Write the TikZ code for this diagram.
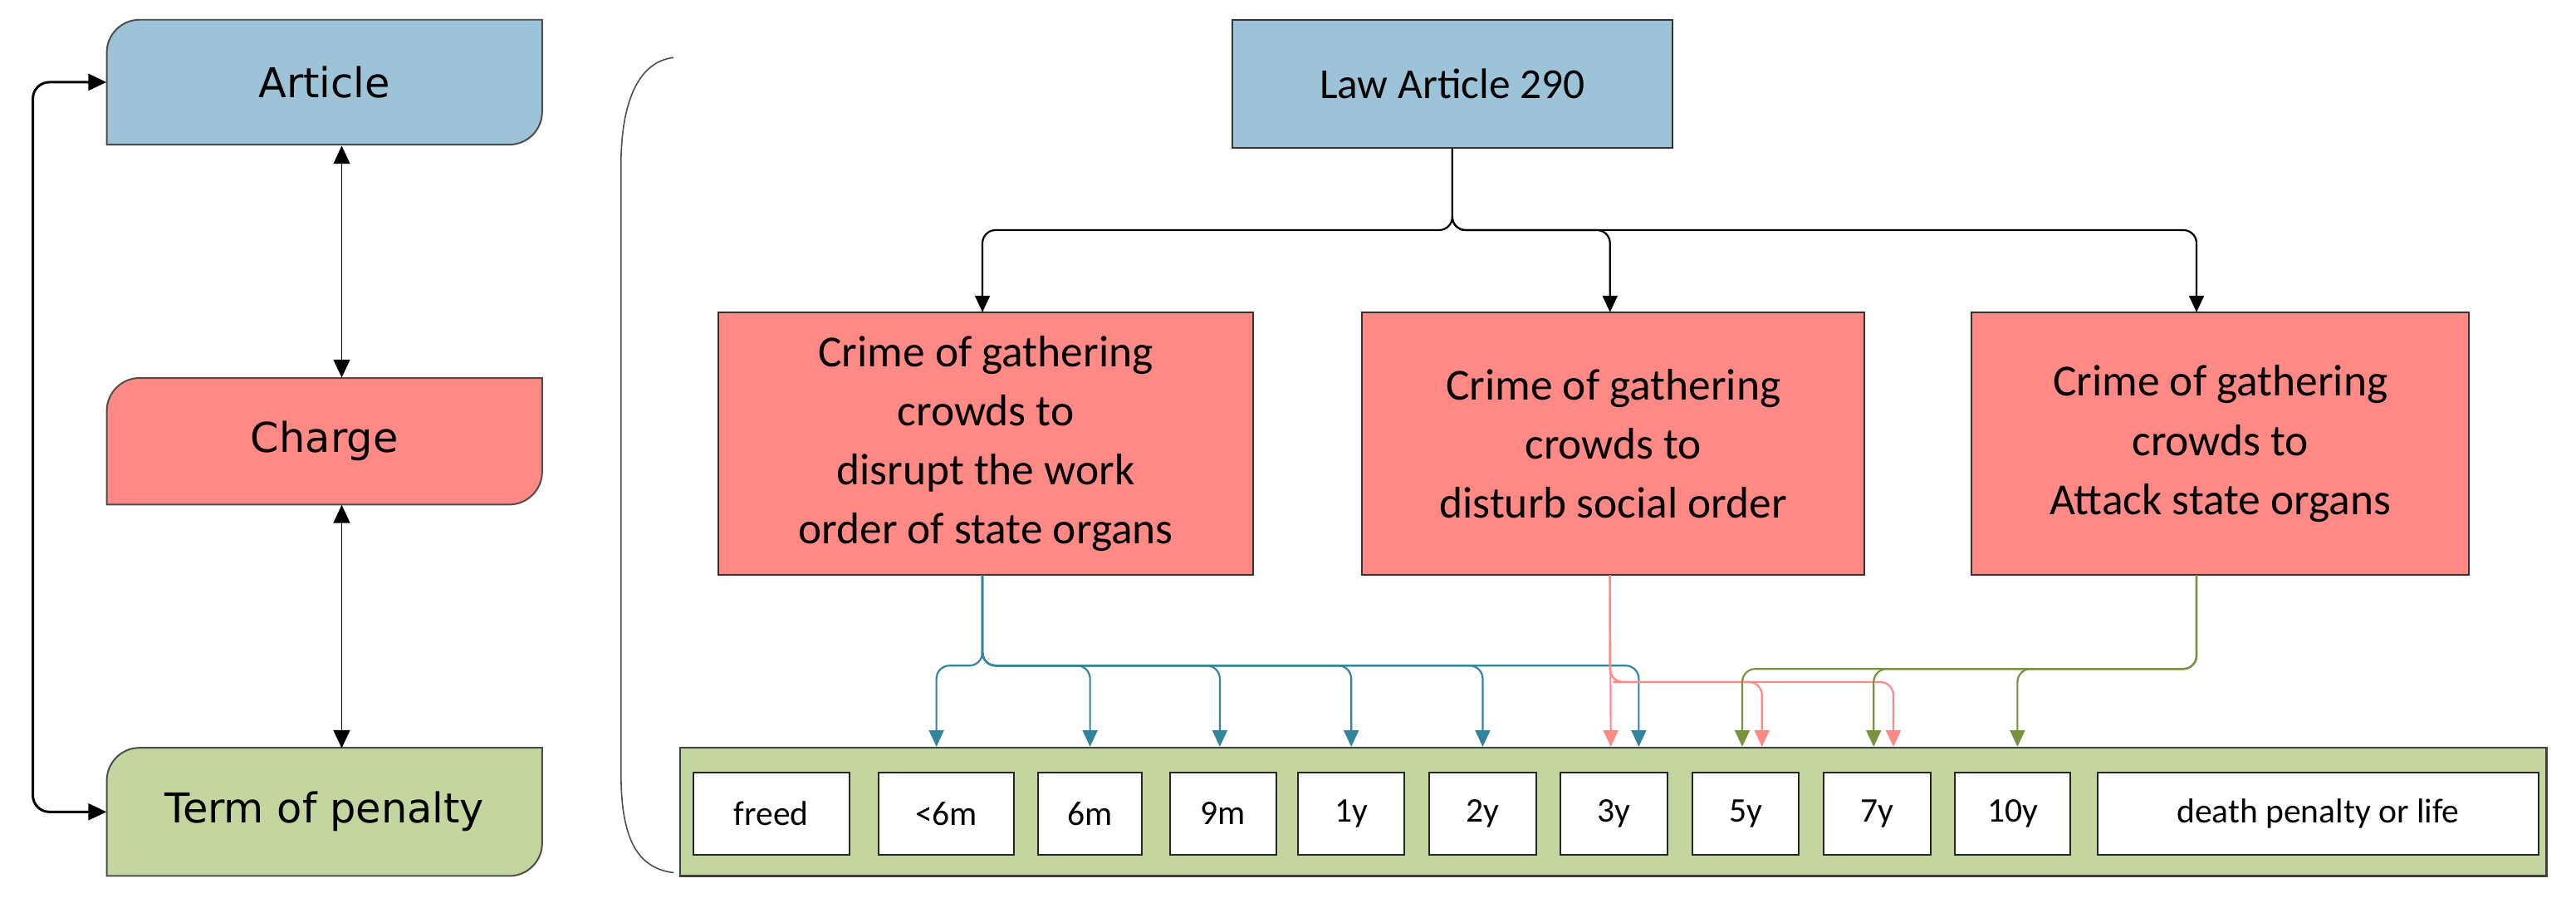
\documentclass[tikz,border=0pt]{standalone}
\usepackage{fontspec}
\setmainfont{Carlito}
\newfontfamily\tagfont{DejaVu Sans}
\usetikzlibrary{arrows.meta,calc}
\definecolor{cblue}{HTML}{9DC3D8}
\definecolor{cpink}{HTML}{FF8A85}
\definecolor{cgreen}{HTML}{C4D6A0}
\definecolor{lblue}{HTML}{31849B}
\definecolor{lpink}{HTML}{FF8A85}
\definecolor{lgreen}{HTML}{77933C}
\tikzset{
  x=1pt,y=1pt,
  tag/.style={minimum width=265pt,minimum height=77pt,inner sep=0pt,font=\tagfont\fontsize{25}{30}\selectfont},
  crime/.style={draw=black!80,line width=1pt,fill=cpink,minimum width=#1,minimum height=160pt,align=center,inner sep=0pt,font=\fontsize{27}{36}\selectfont},
  pen/.style={draw=black!85,line width=1pt,fill=white,minimum height=50pt,inner sep=0pt,font=\fontsize{21}{25}\selectfont},
  tip/.style={-{Triangle[width=9pt,length=10pt]}},
  dtip/.style={{Triangle[width=10pt,length=11pt]}-{Triangle[width=10pt,length=11pt]}},
  conn/.style={line width=1.1pt,rounded corners=8pt},
}
\begin{document}
\begin{tikzpicture}
\useasboundingbox (0,0) rectangle (1568,-549);
% left tags
\draw[fill=cblue,draw=black!70,line width=1pt] (65,-88) -- (65,-32) arc[start angle=180,end angle=90,radius=20] -- (330,-12) -- (330,-68) arc[start angle=0,end angle=-90,radius=20] -- cycle;
\node[tag] (art) at (197.5,-50) {Article};
\draw[fill=cpink,draw=black!70,line width=1pt] (65,-307) -- (65,-250) arc[start angle=180,end angle=90,radius=20] -- (330,-230) -- (330,-287) arc[start angle=0,end angle=-90,radius=20] -- cycle;
\node[tag] (chg) at (197.5,-268.5) {Charge};
\draw[fill=cgreen,draw=black!70,line width=1pt] (65,-533) -- (65,-475) arc[start angle=180,end angle=90,radius=20] -- (330,-455) -- (330,-513) arc[start angle=0,end angle=-90,radius=20] -- cycle;
\node[tag] (term) at (197.5,-494) {Term of penalty};
\draw[dtip,line width=1pt] ([xshift=10.5pt]art.south) -- ([xshift=10.5pt]chg.north);
\draw[dtip,line width=1pt] ([xshift=10.5pt]chg.south) -- ([xshift=10.5pt]term.north);
\coordinate (lt) at (20,-50);
\coordinate (lb) at (20,-494);
\draw[dtip,line width=1.5pt,rounded corners=10pt] (art.west) -- (lt) -- (lb) -- (term.west);
% brace
\draw[black!70,line width=0.8pt] (410,-35) .. controls (385,-38) and (378,-70) .. (378,-100) -- (378,-470) .. controls (378,-505) and (385,-528) .. (410,-531);
% law
\node[draw=black!80,line width=1pt,fill=cblue,minimum width=268pt,minimum height=78pt,font=\fontsize{26}{30}\selectfont] (law) at (884,-51) {Law Article 290};
\node[crime=326pt] (c1) at (600,-270) {Crime of gathering\\crowds to\\disrupt the work\\order of state organs};
\node[crime=306pt] (c2) at (982,-270) {Crime of gathering\\crowds to\\disturb social order};
\node[crime=303pt] (c3) at (1351.5,-270) {Crime of gathering\\crowds to\\Attack state organs};
\coordinate (split) at (884,-140);
\draw[conn,tip] (law.south) -- (split) -| (598,-190);
\draw[conn,tip] (law.south) -- (split) -| (980,-190);
\draw[conn,tip] (law.south) -- (split) -| (1337,-190);
% penalty bar
\node[draw=black!75,line width=1.2pt,fill=cgreen,minimum width=1136pt,minimum height=78pt,inner sep=0pt] (bar) at (982,-494) {};
\node[pen,minimum width=95pt] (p1) at (469.5,-495) {freed};
\node[pen,minimum width=82pt] (p2) at (576,-495) {<6m};
\node[pen,minimum width=63pt] (p3) at (663.5,-495) {6m};
\node[pen,minimum width=65pt] (p4) at (744.5,-495) {9m};
\node[pen,minimum width=65pt] (p5) at (822.5,-495) {1y};
\node[pen,minimum width=65pt] (p6) at (902.5,-495) {2y};
\node[pen,minimum width=65pt] (p7) at (982.5,-495) {3y};
\node[pen,minimum width=65pt] (p8) at (1062.5,-495) {5y};
\node[pen,minimum width=65pt] (p9) at (1142.5,-495) {7y};
\node[pen,minimum width=70pt] (p10) at (1225,-495) {10y};
\node[pen,minimum width=268pt] (p11) at (1411,-495) {death penalty or life};
% blue
\foreach \t/\dx in {p2/-6,p3/0,p4/-2,p5/0,p6/0,p7/15}
  \draw[conn,tip,lblue] (598,-350) |- ($(598,-405)$) -| ([xshift=\dx pt]\t.north |- bar.north);
% pink
\draw[line width=1.1pt,tip,lpink] (980,-350) -- ([xshift=-2pt]p7.north |- bar.north);
\foreach \t/\dx in {p8/10,p9/10}
  \draw[conn,tip,lpink] (980,-350) |- (990,-415) -| ([xshift=\dx pt]\t.north |- bar.north);
% green
\foreach \t/\dx in {p8/-2,p9/-2,p10/3}
  \draw[conn,tip,lgreen] (1337,-350) |- (1300,-407) -| ([xshift=\dx pt]\t.north |- bar.north);
\end{tikzpicture}
\end{document}
